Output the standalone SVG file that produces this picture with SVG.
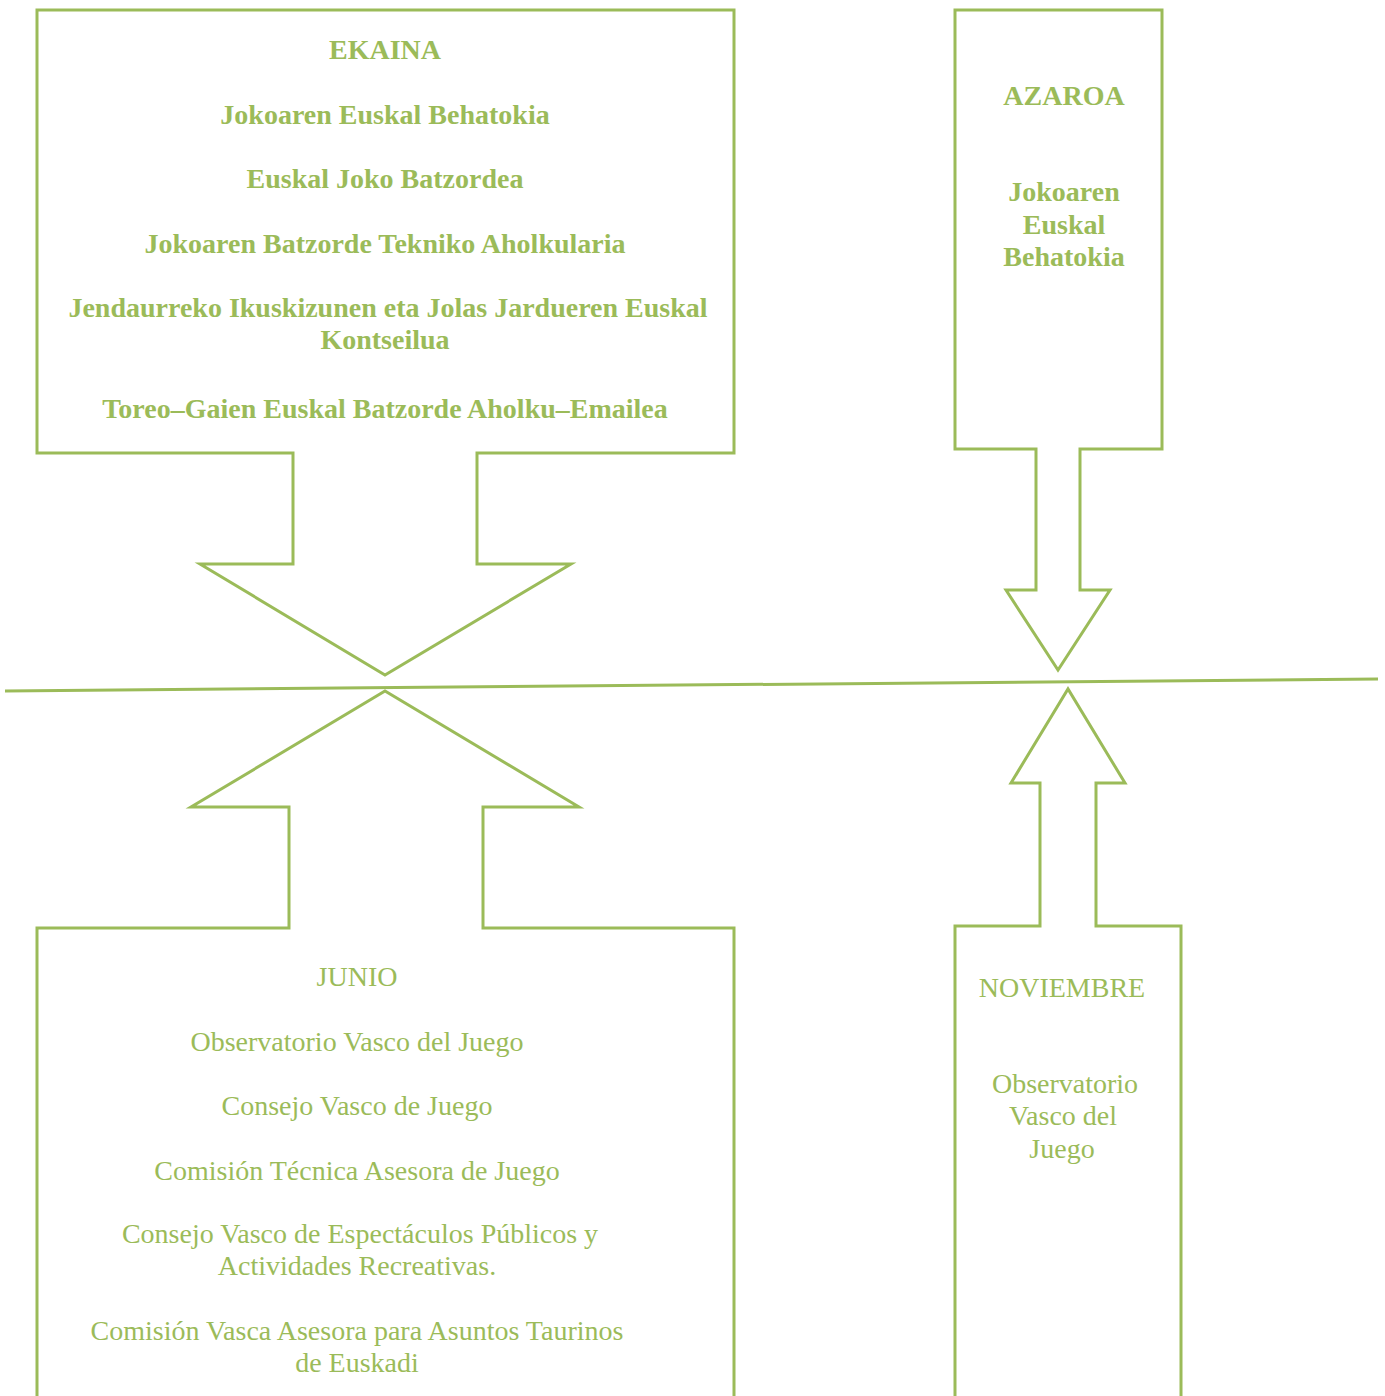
<svg xmlns="http://www.w3.org/2000/svg" width="1385" height="1396" viewBox="0 0 1385 1396">
<style>
.sh{fill:#fff;stroke:#9BBB59;stroke-width:3;stroke-linejoin:miter}
.b{font-family:"Liberation Serif","Times New Roman",serif;font-size:28px;font-weight:bold;fill:#9BBB59;text-anchor:middle}
.r{font-family:"Liberation Serif","Times New Roman",serif;font-size:28px;fill:#9BBB59;text-anchor:middle}
</style>
<rect width="1385" height="1396" fill="#fff"/>
<g id="connectors">
<line x1="5" y1="691" x2="1378" y2="679" stroke="#9BBB59" stroke-width="3"/>
</g>
<g id="ekaina">
<path class="sh" d="M37,10 H734 V453 H477 V564 H571 L385,675 L200,564 H293 V453 H37 Z"/>
<text class="b" x="385" y="59">EKAINA</text>
<text class="b" x="385" y="124">Jokoaren Euskal Behatokia</text>
<text class="b" x="385" y="188">Euskal Joko Batzordea</text>
<text class="b" x="385" y="253">Jokoaren Batzorde Tekniko Aholkularia</text>
<text class="b" x="388" y="317">Jendaurreko Ikuskizunen eta Jolas Jardueren Euskal</text>
<text class="b" x="385" y="349">Kontseilua</text>
<text class="b" x="385" y="418">Toreo–Gaien Euskal Batzorde Aholku–Emailea</text>
</g>
<g id="azaroa">
<path class="sh" d="M955,10 H1162 V449 H1080 V590 H1110 L1058,670 L1006,590 H1036 V449 H955 Z"/>
<text class="b" x="1064" y="105">AZAROA</text>
<text class="b" x="1064" y="201">Jokoaren</text>
<text class="b" x="1064" y="234">Euskal</text>
<text class="b" x="1064" y="266">Behatokia</text>
</g>
<g id="junio">
<path class="sh" d="M37,1400 V928 H289 V807 H191 L385,691 L579,807 H483 V928 H734 V1400"/>
<text class="r" x="357" y="986">JUNIO</text>
<text class="r" x="357" y="1051">Observatorio Vasco del Juego</text>
<text class="r" x="357" y="1115">Consejo Vasco de Juego</text>
<text class="r" x="357" y="1180">Comisión Técnica Asesora de Juego</text>
<text class="r" x="360" y="1243">Consejo Vasco de Espectáculos Públicos y</text>
<text class="r" x="357" y="1275">Actividades Recreativas.</text>
<text class="r" x="357" y="1340">Comisión Vasca Asesora para Asuntos Taurinos</text>
<text class="r" x="357" y="1372">de Euskadi</text>
</g>
<g id="noviembre">
<path class="sh" d="M955,1400 V926 H1040 V783 H1011 L1068,689 L1125,783 H1096 V926 H1181 V1400"/>
<text class="r" x="1062" y="997">NOVIEMBRE</text>
<text class="r" x="1065" y="1093">Observatorio</text>
<text class="r" x="1063" y="1125">Vasco del</text>
<text class="r" x="1062" y="1158">Juego</text>
</g>
</svg>
